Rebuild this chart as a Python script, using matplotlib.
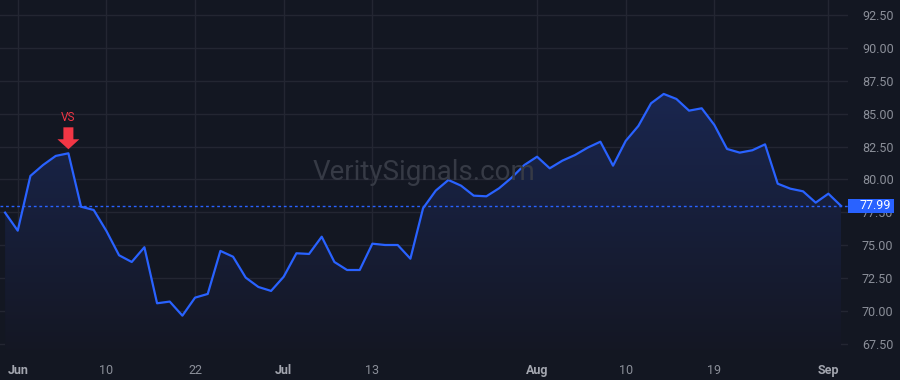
import numpy as np
import matplotlib
matplotlib.use('Agg')
import matplotlib.pyplot as plt
from matplotlib.patches import Rectangle
from matplotlib.transforms import IdentityTransform

plt.rcParams['font.family'] = ['Roboto', 'DejaVu Sans']

# daily closes
values = [77.48, 76.11, 80.27, 81.10, 81.79, 81.99, 77.93, 77.68, 76.09, 74.24,
          73.73, 74.85, 70.59, 70.72, 69.65, 71.02, 71.30, 74.57, 74.13, 72.54,
          71.83, 71.53, 72.61, 74.39, 74.34, 75.65, 73.73, 73.12, 73.12, 75.12,
          75.02, 75.02, 73.98, 77.81, 79.15, 79.96, 79.53, 78.77, 78.72, 79.33,
          80.14, 81.10, 81.73, 80.85, 81.43, 81.86, 82.42, 82.87, 81.05, 82.93,
          84.07, 85.79, 86.50, 86.12, 85.23, 85.41, 84.14, 82.32, 82.04, 82.22,
          82.67, 79.68, 79.30, 79.10, 78.24, 78.92, 77.99]
tick_pos = [1, 8, 15, 22, 29, 42, 49, 56, 65]
tick_labels = ['Jun', '10', '22', 'Jul', '13', 'Aug', '10', '19', 'Sep']
month_labels = ['Jun', 'Jul', 'Aug', 'Sep']
y_ticks = [67.5, 70.0, 72.5, 75.0, 77.5, 80.0, 82.5, 85.0, 87.5, 90.0, 92.5]
signal_idx = 5  # where the VS arrow sits
last_val = values[-1]

bg = '#131722'
blue = '#2962ff'
red = '#f23645'
txt = '#8b8f99'

fig = plt.figure(figsize=(9, 3.8), dpi=100, facecolor=bg)
ax = fig.add_axes([0, 30 / 380, 848 / 900, 350 / 380])
ax.set_facecolor(bg)

x = np.arange(len(values))
ax.set_xlim(-0.4, len(values) - 0.45)
ax.set_ylim(67.04, 93.64)

# gradient fill under the line
poly = ax.fill_between(x, values, ax.get_ylim()[0], color='none', lw=0)
grad = np.linspace(0.05, 0.30, 256).reshape(-1, 1)
cmap = matplotlib.colors.LinearSegmentedColormap.from_list(
    'g', [(0.08, 0.09, 0.14, 1), (0.10, 0.15, 0.31, 1)])
img = ax.imshow(grad, cmap=cmap, aspect='auto', origin='lower',
                extent=[x[0], x[-1], ax.get_ylim()[0], max(values)],
                zorder=1, vmin=0.05, vmax=0.30)
img.set_clip_path(poly.get_paths()[0], transform=ax.transData)
ax.set_xlim(-0.4, len(values) - 0.45)
ax.set_ylim(67.04, 93.64)

ax.plot(x, values, color=blue, lw=1.6, zorder=3, solid_joinstyle='round')
ax.axhline(last_val, color=blue, lw=1, linestyle=(0, (2, 2)), zorder=2)

# grid
ax.set_yticks(y_ticks)
ax.set_yticklabels(['%.2f' % v for v in y_ticks])
ax.set_xticks(tick_pos)
ax.set_xticklabels(tick_labels)
ax.grid(True, color='#232632', lw=1, zorder=0)
ax.set_axisbelow(True)
for s in ax.spines.values():
    s.set_visible(False)
ax.yaxis.tick_right()
ax.tick_params(axis='y', length=0, pad=10, labelsize=9, labelcolor=txt)
ax.tick_params(axis='x', length=0, pad=10, labelsize=9, labelcolor=txt)
for lab in ax.get_xticklabels():
    if lab.get_text() in month_labels:
        lab.set_fontweight('bold')
        lab.set_color('#a3a6af')

# last value label box
fig.canvas.draw()
y_px = ax.transData.transform((0, last_val))[1]
x_px = ax.transAxes.transform((1, 0))[0]
fig.add_artist(Rectangle((x_px, y_px - 7), 46, 14, transform=IdentityTransform(),
                         facecolor=blue, edgecolor='none', zorder=5))
fig.text(x_px + 11, y_px, '%.2f' % last_val, transform=IdentityTransform(),
         color='white', fontsize=9, va='center', ha='left', zorder=6)

# signal arrow
ax.annotate('', xy=(signal_idx, values[signal_idx]), xytext=(0, 18.7),
            textcoords='offset points',
            arrowprops=dict(arrowstyle='simple,head_length=0.72,head_width=1.58,tail_width=0.72',
                            mutation_scale=10, color=red, shrinkA=0, shrinkB=2.9, lw=0),
            zorder=6)
ax.annotate('VS', xy=(signal_idx, values[signal_idx]), xytext=(0, 25.5),
            textcoords='offset points', ha='center', va='center',
            color=red, fontsize=8.5, zorder=6)

# watermark
fig.text(0.4706, 1 - 172 / 380, 'VeritySignals.com', fontsize=20,
         color='#363a45', ha='center', va='center', zorder=0)

fig.savefig('out.png', dpi=100, facecolor=bg)
